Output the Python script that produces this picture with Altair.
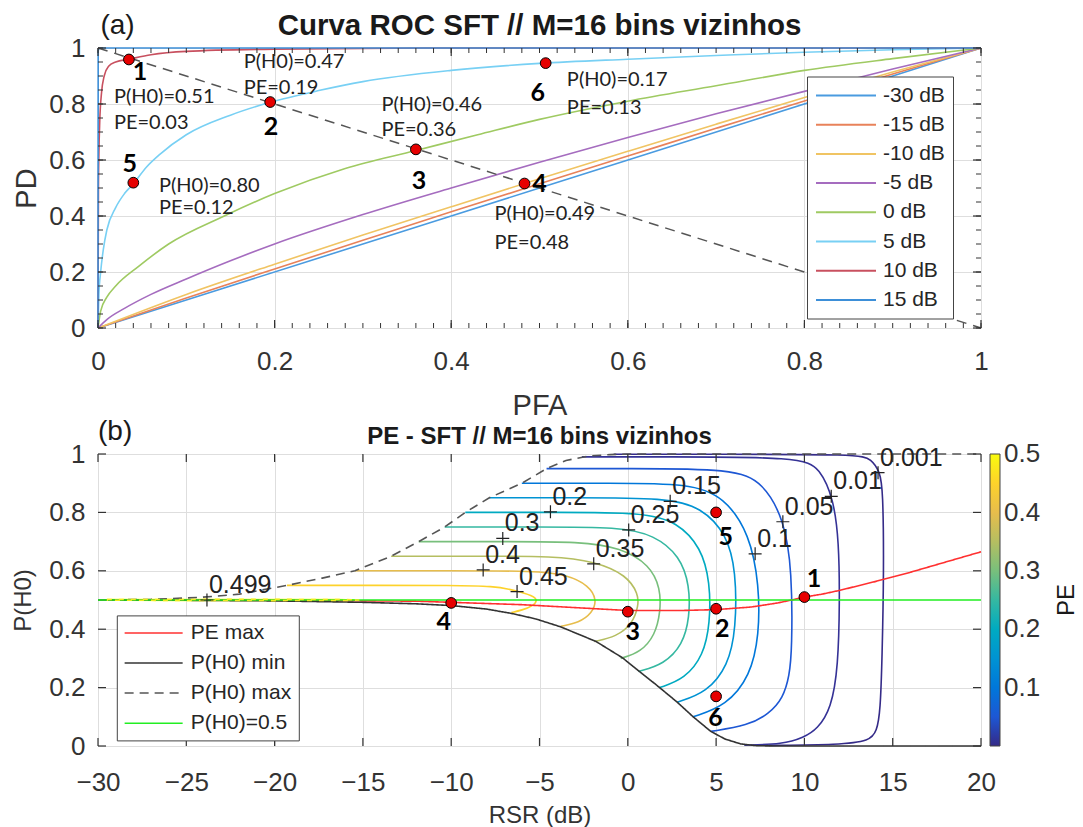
import altair as alt
import pandas as pd

FONT = "Liberation Sans"
ANN_FONT = "Lato"
AXIS_COLOR = "#333333"
GRID_COLOR = "#dedede"

W = 883
H1 = 280
H2 = 292

# ---------------- Panel (a): ROC curves ----------------
TITLE_A = "Curva ROC SFT // M=16 bins vizinhos"
TAG_A = "(a)"
SNR_LABELS = ["-30 dB", "-15 dB", "-10 dB", "-5 dB", "0 dB", "5 dB", "10 dB", "15 dB"]
SNR_COLORS = ["#4a9be0", "#e8825a", "#f0c463", "#a56cbf", "#9fca62", "#78d0f4", "#c8505f", "#3d8fd8"]

PFA_M30 = [0, 0.25, 0.5, 0.75, 1]
PD_M30 = [0, 0.25, 0.5, 0.75, 1]
PFA_M15 = [0, 0.1, 0.2, 0.3, 0.4, 0.5, 0.6, 0.7, 0.8, 0.9, 1]
PD_M15 = [0, 0.107, 0.211, 0.313, 0.415, 0.515, 0.614, 0.713, 0.811, 0.907, 1]
PFA_M10 = [0, 0.1, 0.2, 0.3, 0.4, 0.5, 0.6, 0.7, 0.8, 0.9, 1]
PD_M10 = [0, 0.12, 0.228, 0.332, 0.433, 0.533, 0.631, 0.728, 0.823, 0.914, 1]
PFA_M5 = [0, 0.01, 0.03, 0.06, 0.1, 0.15, 0.2, 0.3, 0.4, 0.5, 0.6, 0.7, 0.8, 0.9, 1]
PD_M5 = [0, 0.03, 0.07, 0.12, 0.175, 0.24, 0.30, 0.405, 0.5, 0.592, 0.68, 0.765, 0.845, 0.925, 1]
PFA_0 = [0, 0.003, 0.01, 0.02, 0.046, 0.08, 0.143, 0.2, 0.28, 0.36, 0.43, 0.5, 0.6, 0.7, 0.8, 0.9, 1]
PD_0 = [0, 0.06, 0.11, 0.15, 0.22, 0.3, 0.4, 0.48, 0.57, 0.634, 0.69, 0.745, 0.81, 0.865, 0.92, 0.962, 1]
PFA_5 = [0, 0.001, 0.003, 0.006, 0.01, 0.02, 0.03, 0.04, 0.055, 0.07, 0.1, 0.15, 0.195, 0.25, 0.3, 0.4, 0.5, 0.6, 0.7, 0.8, 0.9, 1]
PD_5 = [0, 0.12, 0.2, 0.28, 0.35, 0.43, 0.48, 0.515, 0.575, 0.62, 0.69, 0.76, 0.806, 0.848, 0.88, 0.92, 0.945, 0.96, 0.973, 0.985, 0.994, 1]
PFA_10 = [0, 0.0005, 0.001, 0.002, 0.004, 0.007, 0.012, 0.02, 0.035, 0.06, 0.1, 0.2, 0.4, 1]
PD_10 = [0, 0.5, 0.62, 0.74, 0.84, 0.9, 0.935, 0.95, 0.96, 0.976, 0.988, 0.996, 1, 1]
PFA_15 = [0, 0.0002, 0.002, 1]
PD_15 = [0, 0.99, 1, 1]

DIAG_PFA = [0, 1]
DIAG_PD = [1, 0]

PT_ID = ["1", "2", "3", "4", "5", "6"]
PT_PFA = [0.035, 0.195, 0.36, 0.483, 0.04, 0.507]
PT_PD = [0.959, 0.807, 0.638, 0.516, 0.519, 0.946]
PT_LAB_PFA = [0.0476, 0.196, 0.3636, 0.50, 0.036, 0.498]
PT_LAB_PD = [0.913, 0.719, 0.525, 0.513, 0.585, 0.84]

ANN_TEXT = ["P(H0)=0.51", "PE=0.03", "P(H0)=0.47", "PE=0.19", "P(H0)=0.46", "PE=0.36",
            "P(H0)=0.49", "PE=0.48", "P(H0)=0.80", "PE=0.12", "P(H0)=0.17", "PE=0.13"]
ANN_PFA = [0.018, 0.018, 0.165, 0.165, 0.321, 0.321, 0.449, 0.449, 0.069, 0.069, 0.531, 0.531]
ANN_PD = [0.826, 0.733, 0.949, 0.858, 0.798, 0.707, 0.406, 0.305, 0.507, 0.427, 0.885, 0.785]

XTICKS_A = [0, 0.2, 0.4, 0.6, 0.8, 1]
YTICKS_A = [0, 0.2, 0.4, 0.6, 0.8, 1]

# ---------------- Panel (b): PE contours ----------------
TITLE_B = "PE - SFT // M=16 bins vizinhos"
TAG_B = "(b)"
PE_TITLE = "PE"

RSR_C0001 = [-0.8, 5, 13.1, 13.78, 14.27, 14.45, 14.5, 14.4, 14.3, 14.1, 13.7, 12.0, 8.0]
P_C0001 = [0.999, 0.999, 0.999, 0.983, 0.94, 0.88, 0.6, 0.3, 0.12, 0.05, 0.017, 0.004, 0.002]
RSR_C001 = [-2.6, 2, 9.8, 10.88, 11.66, 11.95, 12.0, 11.91, 11.52, 10.74, 9.96, 8.78, 6.6]
P_C001 = [0.99, 0.99, 0.99, 0.951, 0.845, 0.7, 0.5, 0.27, 0.129, 0.058, 0.029, 0.006, 0.003]
RSR_C005 = [-4.6, 0, 6.0, 7.65, 8.86, 9.3, 9.3, 9.15, 8.8, 8.0, 6.8, 4.7]
P_C005 = [0.95, 0.95, 0.95, 0.903, 0.775, 0.6, 0.33, 0.24, 0.165, 0.11, 0.07, 0.05]
RSR_C010 = [-6.0, -1, 3.5, 5.47, 6.91, 7.44, 7.44, 6.94, 5.57, 3.7]
P_C010 = [0.9, 0.9, 0.9, 0.853, 0.725, 0.55, 0.38, 0.24, 0.138, 0.1]
RSR_C015 = [-7.84, -3, 2.2, 4.17, 5.6, 6.13, 6.13, 5.68, 4.47, 2.8]
P_C015 = [0.85, 0.85, 0.85, 0.817, 0.725, 0.6, 0.4, 0.275, 0.183, 0.15]
RSR_C020 = [-9.2, -4, 0.9, 2.78, 4.16, 4.66, 4.66, 4.28, 3.23, 1.8]
P_C020 = [0.8, 0.8, 0.8, 0.768, 0.68, 0.56, 0.42, 0.31, 0.23, 0.2]
RSR_C025 = [-10.37, -5, -0.5, 1.5, 2.96, 3.5, 3.5, 3.11, 2.05, 0.6]
P_C025 = [0.75, 0.75, 0.75, 0.723, 0.65, 0.55, 0.44, 0.347, 0.28, 0.255]
RSR_C030 = [-11.84, -7, -2.65, -0.4, 1.25, 1.85, 1.85, 1.55, 0.73, -0.4]
P_C030 = [0.7, 0.7, 0.7, 0.679, 0.62, 0.54, 0.46, 0.38, 0.321, 0.30]
RSR_C035 = [-13.4, -8, -4.3, -1.85, -0.06, 0.6, 0.6, 0.27, -0.65, -1.9]
P_C035 = [0.65, 0.65, 0.65, 0.633, 0.585, 0.52, 0.48, 0.419, 0.374, 0.358]
RSR_C040 = [-15.45, -10, -5.2, -3.47, -2.2, -1.74, -2.02, -2.77, -3.8]
P_C040 = [0.6, 0.6, 0.6, 0.587, 0.55, 0.5, 0.455, 0.422, 0.41]
RSR_C045 = [-19.3, -14, -10, -7.6, -6.3, -5.4, -5.1, -5.35, -6.0, -6.6]
P_C045 = [0.55, 0.55, 0.55, 0.548, 0.532, 0.515, 0.5, 0.48, 0.465, 0.457]
RSR_C0499 = [-29.5, -24, -19, -16, -15.2, -16, -20, -25, -29.5]
P_C0499 = [0.5015, 0.502, 0.502, 0.5015, 0.5, 0.4985, 0.498, 0.4985, 0.4995]

CONTOUR_LEVELS = [0.001, 0.01, 0.05, 0.1, 0.15, 0.2, 0.25, 0.3, 0.35, 0.4, 0.45, 0.499]
CONTOUR_RSR = [RSR_C0001, RSR_C001, RSR_C005, RSR_C010, RSR_C015, RSR_C020,
               RSR_C025, RSR_C030, RSR_C035, RSR_C040, RSR_C045, RSR_C0499]
CONTOUR_P = [P_C0001, P_C001, P_C005, P_C010, P_C015, P_C020,
             P_C025, P_C030, P_C035, P_C040, P_C045, P_C0499]

CLAB_TEXT = ["0.499", "0.45", "0.4", "0.35", "0.3", "0.25", "0.2", "0.15", "0.1", "0.05", "0.01", "0.001"]
CLAB_RSR = [-23.83, -6.27, -8.19, -1.93, -7.08, 0.05, -4.38, 2.40, 7.21, 8.78, 11.52, 14.17]
CLAB_P = [0.50, 0.529, 0.603, 0.624, 0.711, 0.740, 0.802, 0.838, 0.658, 0.768, 0.855, 0.936]

SERIES_B = ["PE max", "P(H0) min", "P(H0) max", "P(H0)=0.5"]
SERIES_COLORS = ["#ff3030", "#333333", "#555555", "#22ee22"]
SERIES_DASH = [[1, 0], [1, 0], [9, 6], [1, 0]]
PEMAX_RSR = [-30, -20, -12, -10, -6, -3, 0, 3, 5, 7, 8.5, 9.5, 10, 11, 12, 14, 16, 18, 20]
PEMAX_P = [0.5, 0.499, 0.496, 0.492, 0.484, 0.474, 0.464, 0.464, 0.467, 0.476, 0.49, 0.503,
           0.51, 0.52, 0.533, 0.563, 0.595, 0.63, 0.665]
MIN_RSR = [-30, -25, -20, -15, -12, -10, -8, -6.5, -5.2, -3.8, -1.8, -0.3, 0.6, 1.6, 2.8,
           3.7, 4.7, 5.5, 6.4, 7.3, 8.5, 20]
MIN_P = [0.5, 0.499, 0.497, 0.492, 0.487, 0.481, 0.469, 0.453, 0.435, 0.408, 0.358, 0.302,
         0.258, 0.21, 0.15, 0.10, 0.05, 0.024, 0.007, 0.001, 0.0, 0.0]
MAX_RSR = [-30, -27, -24.2, -22, -19.3, -17.3, -15.45, -13.4, -11.84, -10.37, -9.2, -7.84,
           -6.0, -4.6, -3.5, -2.2, -1, 0, 20]
MAX_P = [0.5, 0.502, 0.509, 0.52, 0.55, 0.575, 0.6, 0.65, 0.7, 0.75, 0.8, 0.85, 0.9, 0.95,
         0.978, 0.993, 0.998, 1.0, 1.0]
HALF_RSR = [-30, 20]
HALF_P = [0.5, 0.5]

BPT_ID = ["1", "2", "3", "4", "5", "6"]
BPT_RSR = [10, 5, 0, -10, 5, 5]
BPT_P = [0.51, 0.47, 0.46, 0.49, 0.80, 0.17]
BPT_LAB_RSR = [10.54, 5.35, 0.28, -10.42, 5.54, 4.96]
BPT_LAB_P = [0.571, 0.402, 0.39, 0.426, 0.716, 0.095]

XTICKS_B = [-30, -25, -20, -15, -10, -5, 0, 5, 10, 15, 20]
YTICKS_B = [0, 0.2, 0.4, 0.6, 0.8, 1]
PE_LEGEND_VALUES = [0.1, 0.2, 0.3, 0.4, 0.5]

PARULA_STOPS = [0, 0.0556, 0.1111, 0.1667, 0.2222, 0.2778, 0.3333, 0.3889, 0.4444, 0.5004]
PARULA = ["#352a87", "#0f5cdd", "#127dd8", "#079ccf", "#15b1b4", "#59bd8c",
          "#a5be6b", "#e1b952", "#fcce2e", "#f9fb0e"]

# ---------------- tables ----------------
roc_rows = []
for lab, xs_, ys_ in zip(SNR_LABELS,
                         [PFA_M30, PFA_M15, PFA_M10, PFA_M5, PFA_0, PFA_5, PFA_10, PFA_15],
                         [PD_M30, PD_M15, PD_M10, PD_M5, PD_0, PD_5, PD_10, PD_15]):
    for i, (a, b) in enumerate(zip(xs_, ys_)):
        roc_rows.append({"snr": lab, "x": a, "y": b, "ord": i})
df_roc = pd.DataFrame(roc_rows)
df_diag = pd.DataFrame({"x": DIAG_PFA, "y": DIAG_PD})
df_pt_a = pd.DataFrame({"id": PT_ID, "x": PT_PFA, "y": PT_PD})
df_lab_a = pd.DataFrame({"id": PT_ID, "x": PT_LAB_PFA, "y": PT_LAB_PD})
df_ann_a = pd.DataFrame({"t": ANN_TEXT, "x": ANN_PFA, "y": ANN_PD})

c_rows = []
for lev, xs_, ys_ in zip(CONTOUR_LEVELS, CONTOUR_RSR, CONTOUR_P):
    for i, (a, b) in enumerate(zip(xs_, ys_)):
        c_rows.append({"level": lev, "x": a, "y": b, "ord": i})
df_c = pd.DataFrame(c_rows)
df_c499 = pd.DataFrame({"x": RSR_C0499, "y": P_C0499, "ord": list(range(len(RSR_C0499)))})

b_rows = []
for s, xs_, ys_ in zip(SERIES_B, [PEMAX_RSR, MIN_RSR, MAX_RSR, HALF_RSR],
                       [PEMAX_P, MIN_P, MAX_P, HALF_P]):
    for i, (a, b) in enumerate(zip(xs_, ys_)):
        b_rows.append({"series": s, "x": a, "y": b, "ord": i})
df_b = pd.DataFrame(b_rows)
df_pt_b = pd.DataFrame({"id": BPT_ID, "x": BPT_RSR, "y": BPT_P})
df_lab_b = pd.DataFrame({"id": BPT_ID, "x": BPT_LAB_RSR, "y": BPT_LAB_P})
df_clab = pd.DataFrame({"t": CLAB_TEXT, "x": CLAB_RSR, "y": CLAB_P})


# ---------------- scales / axes ----------------
def axis(values, title, title_size, horiz, h, title_off, label_pad):
    kw = dict(values=values, format="~g", ticks=False, domain=False, grid=True,
              gridColor=GRID_COLOR, gridWidth=1, labelFont=FONT, labelFontSize=26,
              labelColor=AXIS_COLOR, labelPadding=label_pad, labelFlush=False,
              labelOverlap=False, title=title, titleFont=FONT, titleFontSize=title_size,
              titleFontWeight="normal", titleColor=AXIS_COLOR, titleBaseline="middle",
              titleAlign="center")
    if horiz:
        kw.update(titleX=W / 2, titleY=title_off)
    else:
        kw.update(titleX=title_off, titleY=h / 2, titleAngle=270)
    return alt.Axis(**kw)


X_A = alt.X("x:Q", scale=alt.Scale(domain=[0, 1], nice=False, zero=False),
            axis=axis(XTICKS_A, "PFA", 29, True, H1, 77.6, 20))
Y_A = alt.Y("y:Q", scale=alt.Scale(domain=[0, 1], nice=False, zero=False),
            axis=axis(YTICKS_A, "PD", 29, False, H1, -71.7, 13))
X_B = alt.X("x:Q", scale=alt.Scale(domain=[-30, 20], nice=False, zero=False),
            axis=axis(XTICKS_B, "RSR (dB)", 24, True, H2, 69, 23))
Y_B = alt.Y("y:Q", scale=alt.Scale(domain=[0, 1], nice=False, zero=False),
            axis=axis(YTICKS_B, "P(H0)", 24, False, H2, -75, 13))


def inward_ticks(xvals, yvals, X, Y, h, length, width=1):
    out = []
    dfx = pd.DataFrame({"x": xvals})
    dfy = pd.DataFrame({"y": yvals})
    bx = alt.Chart(dfx).mark_rule(color=AXIS_COLOR, strokeWidth=width)
    by = alt.Chart(dfy).mark_rule(color=AXIS_COLOR, strokeWidth=width)
    out.append(bx.encode(x=X, y=alt.value(h), y2=alt.value(h - length)))
    out.append(bx.encode(x=X, y=alt.value(0), y2=alt.value(length)))
    out.append(by.encode(y=Y, x=alt.value(0), x2=alt.value(length)))
    out.append(by.encode(y=Y, x=alt.value(W), x2=alt.value(W - length)))
    return out


def label_text(text, x, y, size, weight="normal", align="left", angle=0, font=FONT):
    return alt.Chart(pd.DataFrame({"t": [text]})).mark_text(
        font=font, fontSize=size, fontWeight=weight, align=align, baseline="middle",
        color="#1a1a1a", angle=angle
    ).encode(text="t:N", x=alt.value(x), y=alt.value(y))


# ---------------- panel (a) ----------------
leg_a = alt.Legend(title=None, orient="none", legendX=709, legendY=28.5,
                   symbolType="M-1,0H5", symbolSize=400, symbolStrokeWidth=2,
                   labelFont=FONT, labelFontSize=21, labelColor="#262626",
                   labelOffset=46, rowPadding=8.2, padding=8,
                   strokeColor="#444444", fillColor="white", labelLimit=300)

roc = alt.Chart(df_roc).mark_line(strokeWidth=1.6, interpolate="monotone").encode(
    x=X_A, y=Y_A,
    color=alt.Color("snr:N", scale=alt.Scale(domain=SNR_LABELS, range=SNR_COLORS), legend=leg_a),
    order="ord:Q",
)
diag = alt.Chart(df_diag).mark_line(strokeDash=[10, 7], color="#555555", strokeWidth=1.5).encode(x=X_A, y=Y_A)
pts_a = alt.Chart(df_pt_a).mark_circle(color="#e60000", stroke="black", strokeWidth=1,
                                       size=115, opacity=1).encode(x=X_A, y=Y_A)
num_a = alt.Chart(df_lab_a).mark_text(font=ANN_FONT, fontSize=25, fontWeight="bold",
                                      color="black", baseline="middle").encode(x=X_A, y=Y_A, text="id:N")
ann_a = alt.Chart(df_ann_a).mark_text(font=ANN_FONT, fontSize=20, color="#222222",
                                      align="left", baseline="middle").encode(x=X_A, y=Y_A, text="t:N")

ticks_a = inward_ticks(XTICKS_A, YTICKS_A, X_A, Y_A, H1, 8, 1.2)
ticks_a += inward_ticks([round(i * 0.02, 2) for i in range(51)],
                        [round(i * 0.05, 2) for i in range(21)], X_A, Y_A, H1, 5, 1)

top = alt.layer(
    roc, diag, pts_a, num_a, ann_a, *ticks_a,
    label_text(TITLE_A, W / 2, -22.2, 29.5, weight="bold", align="center"),
    label_text(TAG_A, 2.4, -22.2, 28),
).properties(width=W, height=H1)

# ---------------- panel (b) ----------------
leg_grad = alt.Legend(title=None, orient="right", offset=5, padding=0,
                      gradientLength=292, gradientThickness=10, values=PE_LEGEND_VALUES,
                      format="~g", labelFont=FONT, labelFontSize=26, labelColor=AXIS_COLOR,
                      labelOffset=4, labelBaseline="middle",
                      gradientStrokeColor="#444444", gradientStrokeWidth=1,
                      direction="vertical")
leg_b = alt.Legend(title=None, orient="none", legendX=18.8, legendY=161.4,
                   symbolType="M-1,0H5", symbolSize=374, symbolStrokeWidth=2,
                   labelFont=FONT, labelFontSize=21, labelColor="#262626",
                   labelOffset=46, rowPadding=8.1, padding=7,
                   strokeColor="#444444", fillColor="white", labelLimit=300)

contours = alt.Chart(df_c).mark_line(strokeWidth=1.6, interpolate="basis").encode(
    x=X_B, y=Y_B,
    color=alt.Color("level:Q", scale=alt.Scale(domain=PARULA_STOPS, range=PARULA), legend=leg_grad),
    detail="level:N",
    order="ord:Q",
)
bounds = alt.Chart(df_b).mark_line(strokeWidth=1.6).encode(
    x=X_B, y=Y_B,
    color=alt.Color("series:N", scale=alt.Scale(domain=SERIES_B, range=SERIES_COLORS), legend=leg_b),
    strokeDash=alt.StrokeDash("series:N", scale=alt.Scale(domain=SERIES_B, range=SERIES_DASH), legend=leg_b),
    strokeWidth=alt.StrokeWidth("series:N", scale=alt.Scale(domain=SERIES_B, range=[1.5, 1.5, 1.5, 3]), legend=None),
    order="ord:Q",
)
c499 = alt.Chart(df_c499).mark_line(strokeWidth=1.6, color="#f0ec20", strokeDash=[5, 7]).encode(
    x=X_B, y=Y_B, order="ord:Q")
pts_b = alt.Chart(df_pt_b).mark_circle(color="#e60000", stroke="black", strokeWidth=1,
                                       size=115, opacity=1).encode(x=X_B, y=Y_B)
num_b = alt.Chart(df_lab_b).mark_text(font=ANN_FONT, fontSize=25, fontWeight="bold",
                                      color="black", baseline="middle").encode(x=X_B, y=Y_B, text="id:N")
plus_b = alt.Chart(df_clab).mark_point(shape="M-1,0H1M0,-1V1", size=169, filled=False,
                                       color="#222222", strokeWidth=1.2, opacity=1).encode(x=X_B, y=Y_B)
clab_b = alt.Chart(df_clab).mark_text(font=FONT, fontSize=25, color="#222222", align="left",
                                      baseline="middle", dx=2, dy=-15).encode(x=X_B, y=Y_B, text="t:N")

ticks_b = inward_ticks(XTICKS_B, YTICKS_B, X_B, Y_B, H2, 8, 1.2)

bottom = alt.layer(
    contours, bounds, c499, pts_b, num_b, plus_b, clab_b, *ticks_b,
    label_text(TITLE_B, W / 2, -16.9, 24, weight="bold", align="center"),
    label_text(TAG_B, 0, -21.9, 28),
    label_text(PE_TITLE, 969.4, H2 / 2, 24, align="center", angle=270),
).resolve_scale(color="independent", strokeDash="independent", strokeWidth="independent"
).properties(width=W, height=H2)

chart = alt.vconcat(top, bottom, spacing=-5).resolve_scale(
    color="independent", strokeDash="independent", strokeWidth="independent"
).properties(
    padding={"left": 10, "top": 10, "right": 0, "bottom": 0}
).configure_view(stroke=AXIS_COLOR, strokeWidth=1).configure(font=FONT)

chart.save("out.html", embed_options={"renderer": "svg", "actions": False})
